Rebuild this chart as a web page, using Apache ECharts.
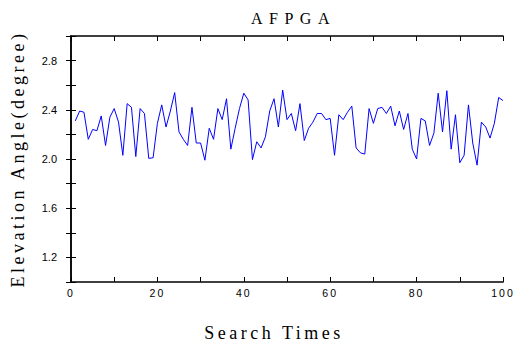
<!DOCTYPE html>
<html>
<head>
<meta charset="utf-8">
<script src="https://cdn.jsdelivr.net/npm/echarts@6/dist/echarts.min.js"></script>
<style>
  html, body { margin: 0; padding: 0; background: #fff; }
  #chart { width: 515px; height: 345px; }
  /* the reference draws its text letter-spaced */
  #chart text[style*="Liberation Serif"] { letter-spacing: 3.5px; }
  #chart text[style*="Times"] { letter-spacing: 6.5px; }
  #chart text[style*="Arial"] { letter-spacing: 2px; }
</style>
</head>
<body>
<div id="chart"></div>
<script>
const titleText = 'AFPGA';
const xName = 'Search Times';
const yName = 'Elevation Angle(degree)';

const searchTimes = [];
for (let i = 1; i <= 100; i++) searchTimes.push(i);

const elevation = [
  2.31, 2.39, 2.38, 2.16, 2.24, 2.23, 2.35, 2.11, 2.34, 2.41,
  2.30, 2.03, 2.45, 2.42, 2.02, 2.41, 2.37, 2.005, 2.01, 2.29,
  2.44, 2.26, 2.39, 2.54, 2.22, 2.16, 2.11, 2.42, 2.13, 2.13,
  1.99, 2.25, 2.16, 2.41, 2.32, 2.49, 2.08, 2.25, 2.41, 2.535,
  2.48, 1.995, 2.14, 2.09, 2.18, 2.39, 2.49, 2.26, 2.56, 2.32,
  2.37, 2.23, 2.45, 2.15, 2.25, 2.30, 2.37, 2.37, 2.32, 2.33,
  2.03, 2.36, 2.32, 2.38, 2.43, 2.09, 2.05, 2.04, 2.41, 2.29,
  2.41, 2.42, 2.37, 2.43, 2.27, 2.39, 2.24, 2.37, 2.08, 2.00,
  2.33, 2.31, 2.11, 2.21, 2.535, 2.22, 2.555, 2.08, 2.36, 1.97,
  2.03, 2.44, 2.13, 1.95, 2.30, 2.26, 2.17, 2.29, 2.50, 2.475
];

const xLabelsShown = [0, 20, 40, 60, 80, 100];
const yLabelsShown = ['1.2', '1.6', '2.0', '2.4', '2.8'];

const chart = echarts.init(document.getElementById('chart'), null, { renderer: 'svg' });

const frameLine = { show: true, lineStyle: { color: '#000', width: 1.5 } };
const innerTick = { show: true, inside: true, length: 5, lineStyle: { color: '#000', width: 1 } };

chart.setOption({
  animation: false,
  backgroundColor: '#fff',
  title: {
    text: titleText,
    left: 246,
    top: 5,
    textStyle: {
      fontFamily: "'Times New Roman', 'Liberation Serif', serif",
      fontSize: 16,
      fontWeight: 'normal',
      color: '#000'
    }
  },
  grid: { left: 71, right: 12, top: 36, bottom: 63, outerBoundsMode: 'none' },
  xAxis: [
    {
      type: 'value',
      min: 0,
      max: 100,
      interval: 10,
      name: xName,
      nameLocation: 'middle',
      nameGap: 42,
      nameTextStyle: {
        fontFamily: 'Liberation Serif',
        fontSize: 18,
        color: '#000',
        padding: [0, 26, 0, 0]
      },
      axisLine: frameLine,
      axisTick: innerTick,
      splitLine: { show: false },
      axisLabel: {
        color: '#000',
        fontFamily: "Arial, 'Liberation Sans', sans-serif",
        fontSize: 10.5,
        margin: 5,
        formatter: v => (xLabelsShown.includes(v) ? String(v) : '')
      }
    },
    {
      type: 'value',
      position: 'top',
      min: 0,
      max: 100,
      interval: 10,
      axisLine: frameLine,
      axisTick: innerTick,
      axisLabel: { show: false },
      splitLine: { show: false }
    }
  ],
  yAxis: [
    {
      type: 'value',
      min: 1.0,
      max: 3.0,
      interval: 0.2,
      name: yName,
      nameLocation: 'middle',
      nameGap: 44,
      nameTextStyle: { fontFamily: 'Liberation Serif', fontSize: 18, color: '#000' },
      axisLine: frameLine,
      axisTick: innerTick,
      splitLine: { show: false },
      axisLabel: {
        color: '#000',
        fontFamily: 'Liberation Sans',
        fontSize: 11,
        margin: 14,
        formatter: v => {
          const s = v.toFixed(1);
          return yLabelsShown.includes(s) ? s : '';
        }
      }
    },
    {
      type: 'value',
      position: 'right',
      min: 1.0,
      max: 3.0,
      interval: 0.2,
      axisLine: frameLine,
      axisTick: innerTick,
      axisLabel: { show: false },
      splitLine: { show: false }
    }
  ],
  series: [
    {
      type: 'line',
      data: searchTimes.map((t, i) => [t, elevation[i]]),
      showSymbol: false,
      lineStyle: { color: '#0000ff', width: 1 },
      itemStyle: { color: '#0000ff' }
    }
  ]
});
</script>
</body>
</html>
